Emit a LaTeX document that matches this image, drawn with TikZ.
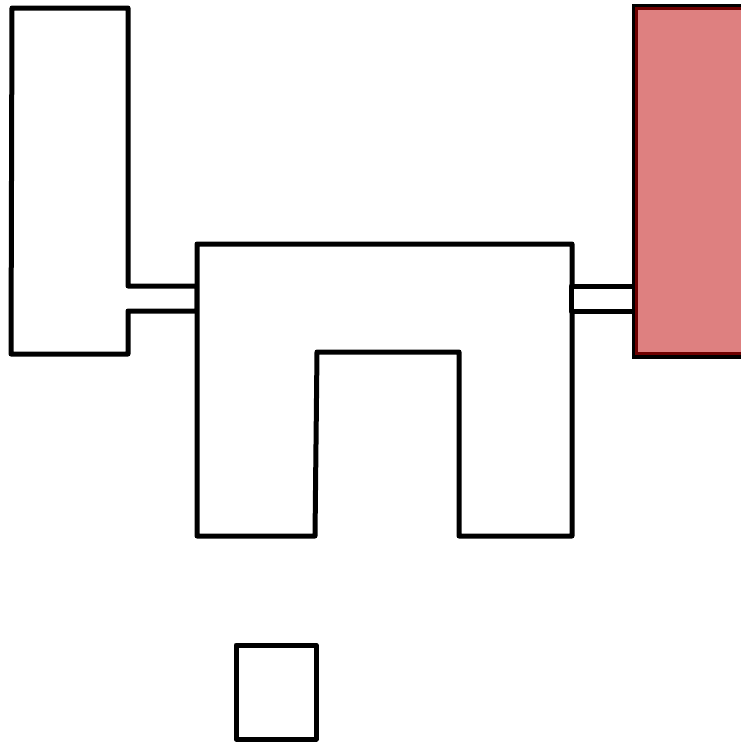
\documentclass[tikz,border=0pt]{standalone}
\definecolor{boxred}{RGB}{222,128,128}
\definecolor{edgered}{RGB}{110,0,0}
\tikzset{
  outline/.style={draw=black, line width=5pt, line join=round, fill=white},
  redfill/.style={fill=boxred, draw=black, line width=6pt, line join=miter},
  rededge/.style={draw=edgered, line width=3pt, line join=miter}
}
\begin{document}
\begin{tikzpicture}[x=1pt,y=-1pt]
\useasboundingbox (0,0) rectangle (740,742);
% left shape with port
\draw[outline] (12,8) -- (128,8) -- (128,286) -- (197,286) -- (197,311) -- (128,311) -- (128,354) -- (11,354) -- cycle;
% middle shape
\draw[outline] (197,244) -- (572,244) -- (572,536) -- (459,536) -- (459,352) -- (317,352) -- (315,536) -- (197,536) -- cycle;
% right port
\draw[outline] (571,286) -- (636,286) -- (636,311) -- (571,311) -- cycle;
% red shape
\path[redfill] (634.5,6.5) rectangle (760,355.5);
\draw[rededge] (636.5,8.5) rectangle (760,353.5);
% small square
\draw[outline] (236,645) rectangle (316,739);
\end{tikzpicture}
\end{document}
